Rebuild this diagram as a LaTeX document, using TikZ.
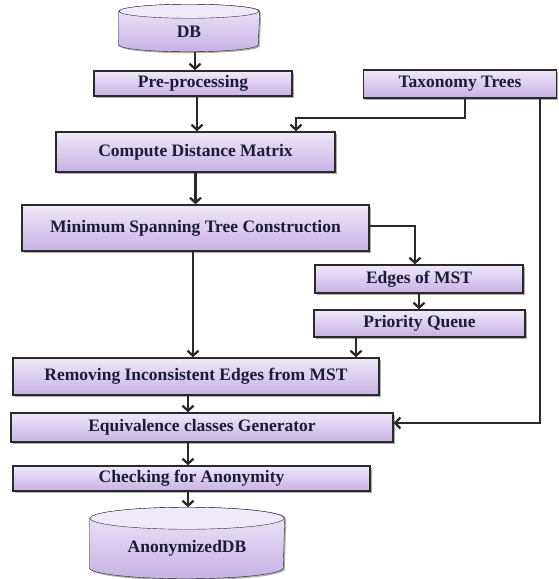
\documentclass[tikz,border=0pt]{standalone}
\usepackage{fontspec}
\setmainfont{Liberation Serif}
\usetikzlibrary{arrows.meta, positioning, calc, shadows, backgrounds}
\definecolor{cfill}{HTML}{EFE9F9}
\definecolor{cshade}{HTML}{C6B1E5}
\definecolor{cline}{HTML}{2A2A2A}
\definecolor{ctext}{HTML}{1C1C38}
\tikzset{
  every picture/.style={font=\bfseries\fontsize{17.5}{20}\selectfont, line width=1.5pt},
  box/.style={draw=cline, top color=cfill, bottom color=cshade, inner sep=0pt, text=ctext,
    drop shadow={shadow xshift=1.5pt, shadow yshift=-1.5pt, fill=black!45, opacity=0.7}},
  dbbody/.style={inner sep=0pt, text=ctext},
  cyl/.style={draw=cline, top color=cfill, bottom color=cshade,
    drop shadow={shadow xshift=1.5pt, shadow yshift=-1.5pt, fill=black!45, opacity=0.7}},
  arrow/.style={-{Straight Barb[length=5pt, width=11pt]}, draw=cline, line width=2.3pt},
}

\begin{document}
\begin{tikzpicture}[x=1pt, y=1pt]
  \useasboundingbox (0,0) rectangle (558,-579);
  % databases
  \node[dbbody, minimum width=140pt, minimum height=39pt] (db) at (189,-31.5) {DB};
  \node[dbbody, minimum width=194pt, minimum height=59pt] (anon) at (187,-548.5) {AnonymizedDB};
  \begin{scope}[on background layer]
    \path[cyl] (db.north west) -- ([yshift=7pt]db.south west) arc[start angle=180, end angle=360, x radius=70pt, y radius=7pt] -- (db.north east) arc[start angle=0, end angle=180, x radius=70pt, y radius=7pt] -- cycle;
    \draw[draw=cline, fill=cfill] (db.north) ellipse[x radius=70pt, y radius=7pt];
    \path[cyl] (anon.north west) -- ([yshift=11pt]anon.south west) arc[start angle=180, end angle=360, x radius=97pt, y radius=11pt] -- (anon.north east) arc[start angle=0, end angle=180, x radius=97pt, y radius=11pt] -- cycle;
    \draw[draw=cline, fill=cfill] (anon.north) ellipse[x radius=97pt, y radius=11pt];
  \end{scope}
  % process boxes
  \node[box, minimum width=198pt, minimum height=25pt] (pre) at (193,-83.5) {Pre-processing};
  \node[box, minimum width=193pt, minimum height=28pt] (tax) at (460,-84) {Taxonomy Trees};
  \node[box, minimum width=279pt, minimum height=40pt] (dist) at (195.5,-152) {Compute Distance Matrix};
  \node[box, minimum width=347pt, minimum height=46pt] (mst) at (195.5,-228) {Minimum Spanning Tree Construction};
  \node[box, minimum width=208pt, minimum height=28pt] (edg) at (419,-279) {Edges of MST};
  \node[box, minimum width=211pt, minimum height=27pt] (pq) at (419.5,-323.5) {Priority Queue};
  \node[box, minimum width=366pt, minimum height=37pt] (rem) at (196,-376.5) {Removing Inconsistent Edges from MST};
  \node[box, minimum width=382pt, minimum height=29pt] (eqc) at (202,-427.5) {Equivalence classes Generator};
  \node[box, minimum width=357pt, minimum height=25pt] (chk) at (191.5,-478.5) {Checking for Anonymity};
  % main flow
  \draw[arrow] ([xshift=6pt]db.south) -- ([xshift=2pt]pre.north);
  \draw[arrow] ([xshift=4pt]pre.south) -- ([xshift=1.5pt]dist.north);
  \draw[arrow] (dist.south) -- (mst.north);
  \draw[arrow] ([xshift=-2.5pt]mst.south) -- ([xshift=-3pt]rem.north);
  \draw[arrow] ([xshift=-8pt]rem.south) -- ([xshift=-14pt]eqc.north);
  \draw[arrow] ([xshift=-14pt]eqc.south) -- ([xshift=-3.5pt]chk.north);
  \draw[arrow] ([xshift=-3.5pt]chk.south) -- ([xshift=1pt, yshift=11pt]anon.north);
  % side branch
  \draw[arrow] ([yshift=2pt]mst.east) -| ([xshift=-4pt]edg.north);
  \draw[arrow] (edg.south) -- (edg.south |- pq.north);
  \draw[arrow] ([xshift=-63.5pt]pq.south) -- ([xshift=160pt]rem.north);
  % taxonomy
  \draw[arrow] ([xshift=5pt]tax.south) -- ++(0,-19) -| ([xshift=100.5pt]dist.north);
  \draw[arrow] ([xshift=80pt]tax.south) |- ([yshift=4.5pt]eqc.east);
\end{tikzpicture}
\end{document}
